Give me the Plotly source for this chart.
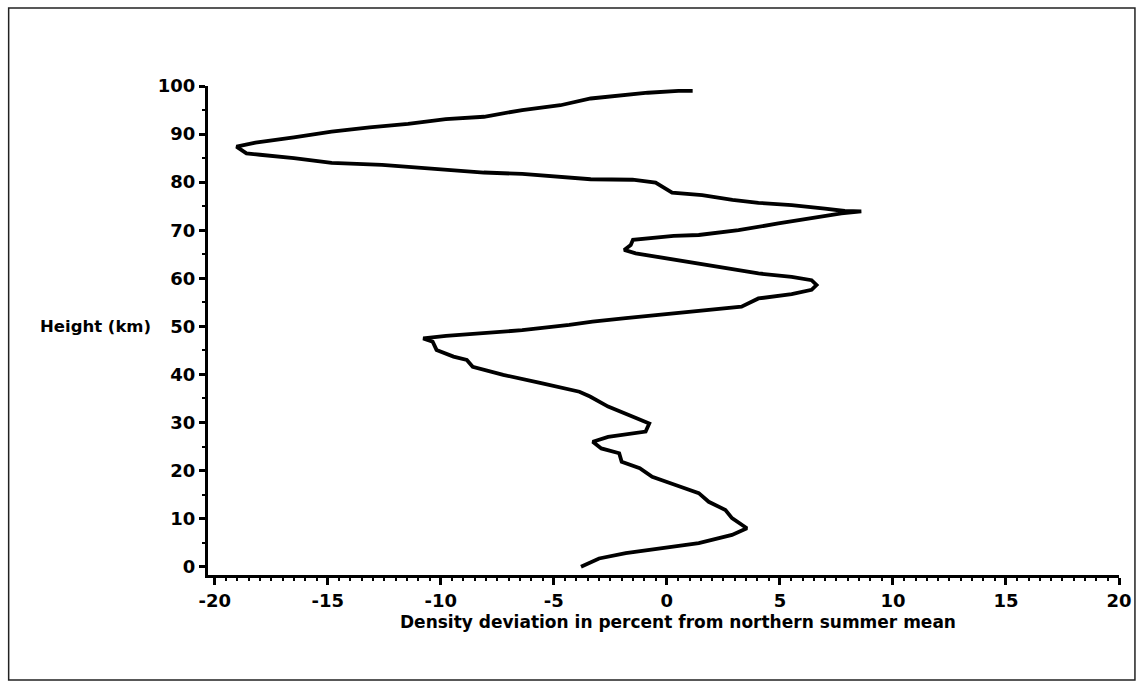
import plotly.graph_objects as go

# Height (km) and density deviation (%), bottom to top
height_km = [0, 1.7, 2.8, 3.8, 4.9, 6.6, 8.0, 10.1, 11.8, 13.5, 15.3, 17.0, 18.7,
             20.5, 21.8, 23.6, 24.6, 26.0, 27.0, 28.1, 29.8, 30.9, 33.3, 35.4, 36.4,
             38.2, 39.9, 41.6, 43.0, 43.7, 45.1, 46.8, 47.5, 48.0, 48.6, 49.2, 50.3,
             51.0, 51.7, 52.4, 52.7, 53.4, 54.1, 55.8, 56.7, 57.6, 58.6, 59.6, 60.3,
             61.0, 62.1, 63.3, 64.4, 65.2, 65.9, 66.9, 68.0, 68.8, 69.0, 70.0, 71.4,
             72.5, 73.5, 73.9, 74.0, 74.5, 75.2, 75.7, 76.3, 77.3, 77.8, 79.9, 80.5,
             80.6, 81.1, 81.7, 82.0, 82.9, 83.6, 84.0, 85.0, 85.7, 86.0, 87.4, 88.2,
             89.3, 90.5, 91.4, 92.1, 93.1, 93.6, 95.0, 96.0, 97.4, 97.9, 98.6, 99.0, 99.0]
deviation_pct = [-3.8, -3.0, -1.82, -0.35, 1.41, 2.88, 3.54, 2.88, 2.59, 1.85, 1.41, 0.38, -0.65,
                 -1.2, -2.0, -2.11, -2.9, -3.28, -2.6, -0.94, -0.78, -1.34, -2.6, -3.4, -3.87,
                 -5.56, -7.24, -8.59, -8.85, -9.44, -10.19, -10.36, -10.78, -9.77, -8.09, -6.4, -4.32,
                 -3.29, -1.82, -0.35, 0.53, 1.85, 3.3, 4.05, 5.52, 6.4, 6.62, 6.4, 5.52,
                 4.05, 2.59, 1.11, -0.35, -1.38, -1.89, -1.6, -1.5, 0.3, 1.41, 3.17, 4.93,
                 6.4, 7.72, 8.6, 7.87, 6.99, 5.52, 4.05, 2.9, 1.56, 0.23, -0.5, -1.52,
                 -3.37, -4.9, -6.4, -8.1, -10.6, -12.6, -14.83, -16.5, -18.0, -18.6, -19.04, -18.2,
                 -16.5, -14.83, -13.15, -11.45, -9.78, -8.09, -6.4, -4.71, -3.37, -2.36, -0.84, 0.51, 1.14]

x_ticks = [-20, -15, -10, -5, 0, 5, 10, 15, 20]
y_ticks = [0, 10, 20, 30, 40, 50, 60, 70, 80, 90, 100]

x_title = "Density deviation in percent from northern summer mean"
y_title = "Height (km)"

FONT = "DejaVu Sans"

fig = go.Figure()
fig.add_trace(go.Scatter(
    x=deviation_pct, y=height_km, mode="lines",
    line=dict(color="black", width=3.8), showlegend=False,
))

fig.update_layout(
    width=1144, height=685,
    margin=dict(l=208, r=22, t=86, b=110),
    paper_bgcolor="white", plot_bgcolor="white",
    font=dict(family=FONT, color="black"),
    xaxis=dict(
        range=[-20.3, 20], tickmode="array", tickvals=x_ticks,
        ticktext=[str(v) for v in x_ticks],
        showgrid=False, zeroline=False,
        showline=True, linecolor="black", linewidth=3,
        ticks="outside", ticklen=7, tickwidth=3, tickcolor="black",
        minor=dict(dtick=0.5, tick0=0, ticks="outside", ticklen=3, tickwidth=2,
                   tickcolor="black", showgrid=False),
        tickfont=dict(family=FONT, size=18, weight="bold", color="black"),
    ),
    yaxis=dict(
        range=[-1.73, 100], tickmode="array", tickvals=y_ticks,
        ticktext=[str(v) for v in y_ticks],
        showgrid=False, zeroline=False,
        showline=True, linecolor="black", linewidth=3,
        ticks="outside", ticklen=6, tickwidth=3, tickcolor="black",
        minor=dict(dtick=5, tick0=0, ticks="outside", ticklen=3, tickwidth=2,
                   tickcolor="black", showgrid=False),
        tickfont=dict(family=FONT, size=18, weight="bold", color="black"),
    ),
    annotations=[
        dict(text=y_title, xref="paper", yref="y", x=-0.060, y=50,
             xanchor="right", yanchor="middle", showarrow=False,
             font=dict(family=FONT, size=16.5, weight="bold", color="black")),
        dict(text=x_title, xref="paper", yref="paper", x=0.516, y=-0.096,
             xanchor="center", yanchor="middle", showarrow=False,
             font=dict(family=FONT, size=17, weight="bold", color="black")),
    ],
    shapes=[
        dict(type="rect", xref="paper", yref="paper",
             x0=(8 - 208) / 914, x1=(1138 - 208) / 914,
             y0=(575 - 680) / 489, y1=(575 - 8) / 489,
             line=dict(color="#222222", width=1.5), fillcolor="rgba(0,0,0,0)",
             layer="below"),
    ],
)

fig.write_html("out.html")
